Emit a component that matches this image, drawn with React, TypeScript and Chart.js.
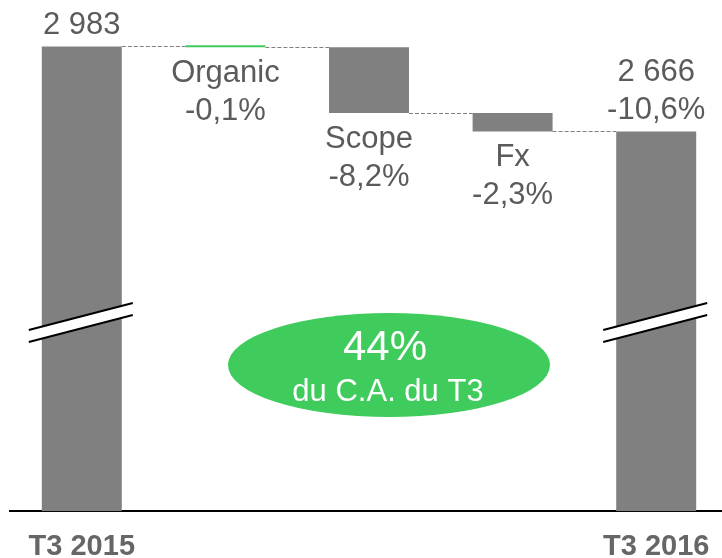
import React, { useEffect, useRef } from 'react';
import { Chart, registerables } from 'chart.js';

Chart.register(...registerables);

// ---- data ----
const categories = ['T3 2015', 'Organic', 'Scope', 'Fx', 'T3 2016'];
const tickLabels = ['T3 2015', '', '', '', 'T3 2016'];
const startValue = 2983;
const deltaValues = [-3, -245, -69];
const endValue = 2666;
const labelLines = [
  ['2 983'],
  ['Organic', '-0,1%'],
  ['Scope', '-8,2%'],
  ['Fx', '-2,3%'],
  ['2 666', '-10,6%'],
];
const calloutLines = ['44%', 'du C.A. du T3'];
const axisMin = 1250;
const axisMax = 3156;

const GRAY = '#808080';
const GREEN = '#3FCC5C';
const TEXT = '#5b5b5b';
const FONT = "'Liberation Sans', Arial, sans-serif";
const barColors = [GRAY, GREEN, GRAY, GRAY, GRAY];

// running levels: 2983, 2980, 2735, 2666
const levels: number[] = [startValue];
deltaValues.forEach((d) => levels.push(levels[levels.length - 1] + d));

const barData: [number, number][] = [
  [axisMin, startValue],
  ...deltaValues.map((d, i) => {
    const a = levels[i];
    const b = levels[i + 1];
    return [Math.min(a, b), Math.max(a, b)] as [number, number];
  }),
  [axisMin, endValue],
];

const overlay = {
  id: 'overlay',
  beforeDatasetsDraw(chart: any) {
    const ctx = chart.ctx;
    const meta = chart.getDatasetMeta(0);
    const y = chart.scales.y;
    ctx.save();
    ctx.strokeStyle = GRAY;
    ctx.lineWidth = 1;
    ctx.setLineDash([4, 2]);
    for (let i = 0; i < meta.data.length - 1; i++) {
      const a = meta.data[i];
      const b = meta.data[i + 1];
      const py = Math.round(y.getPixelForValue(levels[i])) + 0.5;
      ctx.beginPath();
      ctx.moveTo(a.x + a.width / 2, py);
      ctx.lineTo(b.x - b.width / 2, py);
      ctx.stroke();
    }
    ctx.restore();
  },
  afterDatasetsDraw(chart: any) {
    const ctx = chart.ctx;
    const meta = chart.getDatasetMeta(0);
    const area = chart.chartArea;
    ctx.save();
    // break marks on total bars
    const last = meta.data.length - 1;
    [0, last].forEach((i) => {
      const el = meta.data[i];
      const cx = el.x;
      const lx = cx - 53;
      const rx = cx + 51;
      const yTopL = area.top + 330;
      const yTopR = area.top + 303;
      const gap = 12;
      ctx.beginPath();
      ctx.moveTo(lx, yTopL);
      ctx.lineTo(rx, yTopR);
      ctx.lineTo(rx, yTopR + gap);
      ctx.lineTo(lx, yTopL + gap);
      ctx.closePath();
      ctx.fillStyle = '#ffffff';
      ctx.fill();
      ctx.strokeStyle = '#000000';
      ctx.lineWidth = 2;
      ctx.beginPath();
      ctx.moveTo(lx, yTopL);
      ctx.lineTo(rx, yTopR);
      ctx.moveTo(lx, yTopL + gap);
      ctx.lineTo(rx, yTopR + gap);
      ctx.stroke();
    });

    // labels
    ctx.fillStyle = TEXT;
    ctx.font = `31px ${FONT}`;
    ctx.textAlign = 'center';
    ctx.textBaseline = 'alphabetic';
    const lh = 38;
    meta.data.forEach((el: any, i: number) => {
      const lines = labelLines[i];
      const top = Math.min(el.y, el.base);
      const bottom = Math.max(el.y, el.base);
      const isTotal = i === 0 || i === last;
      if (isTotal) {
        const lastBase = top - 12;
        lines.forEach((t, k) => {
          ctx.fillText(t, el.x, lastBase - (lines.length - 1 - k) * lh);
        });
      } else {
        const firstBase = bottom + 35;
        lines.forEach((t, k) => {
          ctx.fillText(t, el.x, firstBase + k * lh);
        });
      }
    });

    // callout ellipse
    const ex = area.left + 379;
    const ey = area.top + 365;
    ctx.fillStyle = GREEN;
    ctx.beginPath();
    ctx.ellipse(ex, ey, 161, 52, 0, 0, Math.PI * 2);
    ctx.fill();
    ctx.fillStyle = '#ffffff';
    ctx.font = `42px ${FONT}`;
    ctx.fillText(calloutLines[0], ex - 4, area.top + 360);
    ctx.font = `31px ${FONT}`;
    ctx.fillText(calloutLines[1], ex - 1, area.top + 401);
    ctx.restore();
  },
};

export default function App() {
  const ref = useRef<HTMLCanvasElement | null>(null);
  useEffect(() => {
    if (!ref.current) return;
    const chart = new Chart(ref.current, {
      type: 'bar',
      data: {
        labels: categories,
        datasets: [
          {
            data: barData as any,
            backgroundColor: barColors,
            borderWidth: 0,
            barPercentage: 0.557,
            categoryPercentage: 1,
            minBarLength: 2,
          },
        ],
      },
      options: {
        responsive: false,
        animation: false,
        devicePixelRatio: 1,
        layout: { padding: { left: 10, right: 12, top: 0, bottom: 0 } },
        plugins: { legend: { display: false }, tooltip: { enabled: false } },
        scales: {
          x: {
            grid: { display: false, drawTicks: false },
            border: { display: true, color: '#000000', width: 2 },
            ticks: {
              autoSkip: false,
              maxRotation: 0,
              padding: 18,
              color: '#666666',
              font: { family: FONT, size: 29, weight: 'bold' },
              callback: (_v: any, i: number) => tickLabels[i],
            },
          },
          y: { display: false, min: axisMin, max: axisMax },
        },
      },
      plugins: [overlay],
    });
    return () => chart.destroy();
  }, []);
  return (
    <div style={{ position: 'fixed', left: 0, top: 0, width: 722, height: 558, overflow: 'hidden', background: '#fff' }}>
      <canvas ref={ref} width={740} height={582} style={{ display: 'block' }} />
    </div>
  );
}
